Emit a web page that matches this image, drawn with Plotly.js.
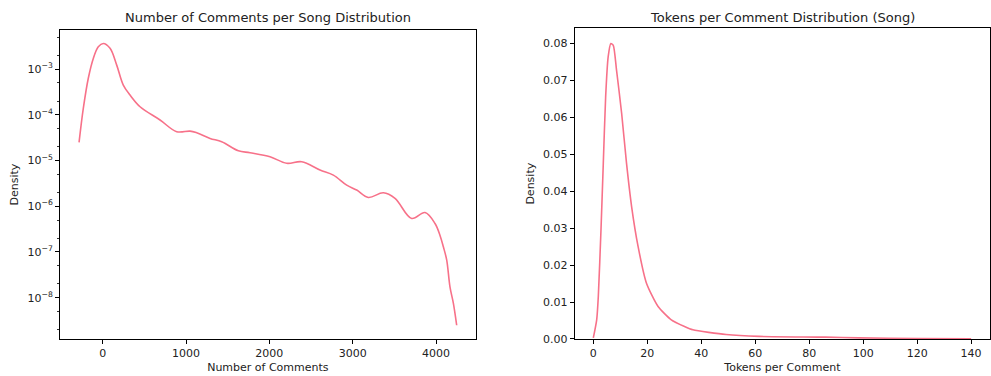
<!DOCTYPE html>
<html>
<head>
<meta charset="utf-8">
<script src="https://cdn.plot.ly/plotly-3.0.1.min.js"></script>
<style>html,body{margin:0;padding:0;background:#fff;}#chart{width:991px;height:376px;}</style>
</head>
<body>
<div id="chart"></div>
<script>
// Left panel: Number of Comments per Song (KDE, log density)
const commentsX = [-284, -233, -173, -113, -53, 7, 88, 168, 247, 328, 448, 688, 888, 1048, 1128, 1288, 1428, 1628, 1768, 2008, 2208, 2388, 2608, 2768, 2928, 3048, 3188, 3368, 3508, 3708, 3868, 3988, 4048, 4088, 4128, 4168, 4208, 4248];
const commentsDensity = [2.5e-5, 1.38e-4, 6.3e-4, 1.71e-3, 3.08e-3, 3.63e-3, 2.84e-3, 1.22e-3, 4.46e-4, 2.7e-4, 1.5e-4, 7.7e-5, 4.27e-5, 4.4e-5, 4.05e-5, 3.05e-5, 2.57e-5, 1.63e-5, 1.48e-5, 1.21e-5, 8.7e-6, 9.4e-6, 6.2e-6, 4.8e-6, 2.9e-6, 2.26e-6, 1.56e-6, 1.97e-6, 1.49e-6, 5.4e-7, 7.3e-7, 4.2e-7, 2.3e-7, 1.3e-7, 6.7e-8, 1.7e-8, 7.6e-9, 2.5e-9];

// Right panel: Tokens per Comment (KDE, linear density)
const tokensX = [0, 1.25, 1.85, 2.84, 3.7, 4.57, 5.5, 6.5, 7.4, 8.6, 10.5, 12.3, 14.2, 16.6, 19.7, 24, 28.9, 33.8, 36.9, 49.2, 61.5, 86, 98.4, 120, 140];
const tokensDensity = [0.0003, 0.0052, 0.0115, 0.0295, 0.0476, 0.0656, 0.0764, 0.0800, 0.0795, 0.0728, 0.0611, 0.0476, 0.0358, 0.025, 0.0151, 0.0088, 0.0052, 0.0034, 0.0025, 0.0012, 0.0007, 0.0005, 0.0003, 0.00015, 0.00005];

const leftTicksX = [0, 1000, 2000, 3000, 4000];
const leftTicksY = [1e-8, 1e-7, 1e-6, 1e-5, 1e-4, 1e-3];
const leftTickText = ["10<sup>−8</sup>", "10<sup>−7</sup>", "10<sup>−6</sup>", "10<sup>−5</sup>", "10<sup>−4</sup>", "10<sup>−3</sup>"];
const rightTicksX = [0, 20, 40, 60, 80, 100, 120, 140];
const rightTicksY = [0, 0.01, 0.02, 0.03, 0.04, 0.05, 0.06, 0.07, 0.08];

const lineColor = '#f77189';
const font = {family: 'DejaVu Sans, sans-serif', size: 11, color: '#222'};

const traces = [
  {x: commentsX, y: commentsDensity, type: 'scatter', mode: 'lines', line: {color: lineColor, width: 1.6, shape: 'spline', smoothing: 1}, xaxis: 'x', yaxis: 'y', hoverinfo: 'skip'},
  {x: tokensX, y: tokensDensity, type: 'scatter', mode: 'lines', line: {color: lineColor, width: 1.6, shape: 'spline', smoothing: 0.6}, xaxis: 'x2', yaxis: 'y2', hoverinfo: 'skip'}
];

const axisCommon = {
  showline: true, linecolor: '#000', linewidth: 1, mirror: true,
  ticks: 'outside', ticklen: 4, tickcolor: '#000', tickwidth: 1,
  showgrid: false, zeroline: false, tickfont: {family: font.family, size: 11, color: '#222'}
};

const layout = {
  width: 991, height: 376,
  margin: {l: 0, r: 0, t: 0, b: 0},
  paper_bgcolor: '#fff', plot_bgcolor: '#fff',
  showlegend: false,
  font: font,
  xaxis: Object.assign({}, axisCommon, {
    domain: [0.0606, 0.480], range: [-512, 4476],
    tickvals: leftTicksX, ticktext: leftTicksX.map(String),
    title: {text: 'Number of Comments', font: {size: 11, family: font.family, color: '#222'}, standoff: 4},
    anchor: 'y'
  }),
  yaxis: Object.assign({}, axisCommon, {
    type: 'log', domain: [0.0984, 0.920], range: [-8.903, -2.147],
    tickvals: leftTicksY, ticktext: leftTickText,
    minor: {ticks: 'outside', ticklen: 2, tickcolor: '#000', tickwidth: 0.8, showgrid: false},
    title: {text: 'Density', font: {size: 11, family: font.family, color: '#222'}, standoff: 6},
    anchor: 'x'
  }),
  xaxis2: Object.assign({}, axisCommon, {
    domain: [0.580, 0.999], range: [-6.87, 147],
    tickvals: rightTicksX, ticktext: rightTicksX.map(String),
    title: {text: 'Tokens per Comment', font: {size: 11, family: font.family, color: '#222'}, standoff: 4},
    anchor: 'y2'
  }),
  yaxis2: Object.assign({}, axisCommon, {
    domain: [0.0984, 0.9245], range: [0, 0.0841],
    tickvals: rightTicksY, tickformat: '.2f',
    title: {text: 'Density', font: {size: 11, family: font.family, color: '#222'}, standoff: 6},
    anchor: 'x2'
  }),
  annotations: [
    {text: 'Number of Comments per Song Distribution', xref: 'paper', yref: 'paper', x: 0.2703, y: 1 - 18/376, xanchor: 'center', yanchor: 'middle', showarrow: false, font: {size: 13, family: font.family, color: '#222'}},
    {text: 'Tokens per Comment Distribution (Song)', xref: 'paper', yref: 'paper', x: 0.7895, y: 1 - 17/376, xanchor: 'center', yanchor: 'middle', showarrow: false, font: {size: 13, family: font.family, color: '#222'}}
  ]
};

Plotly.newPlot('chart', traces, layout, {staticPlot: true, displayModeBar: false});
</script>
</body>
</html>
